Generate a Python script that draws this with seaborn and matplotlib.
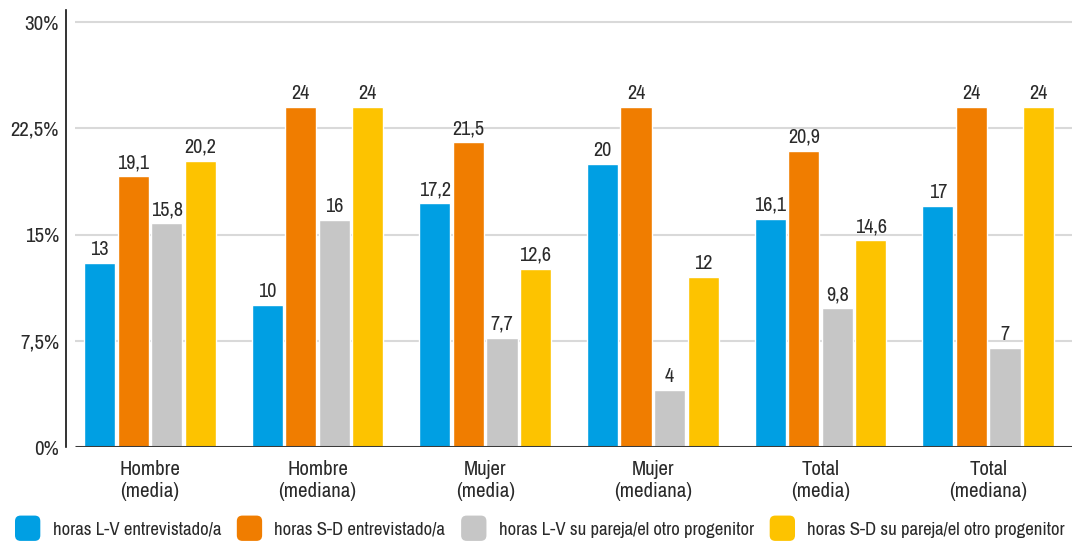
import pandas as pd
import matplotlib
matplotlib.use("Agg")
import matplotlib.pyplot as plt
import seaborn as sns
from matplotlib.patches import Patch, FancyBboxPatch
from matplotlib.legend_handler import HandlerPatch
from matplotlib.ticker import FuncFormatter

# data
groups = ["Hombre\n(media)", "Hombre\n(mediana)", "Mujer\n(media)",
          "Mujer\n(mediana)", "Total\n(media)", "Total\n(mediana)"]
series = ["horas L-V entrevistado/a", "horas S-D entrevistado/a",
          "horas L-V su pareja/el otro progenitor", "horas S-D su pareja/el otro progenitor"]
lv_entrev = [13, 10, 17.2, 20, 16.1, 17]
sd_entrev = [19.1, 24, 21.5, 24, 20.9, 24]
lv_pareja = [15.8, 16, 7.7, 4, 9.8, 7]
sd_pareja = [20.2, 24, 12.6, 12, 14.6, 24]
colors = ["#009FE3", "#F07D00", "#C6C6C6", "#FDC300"]

rows = []
for name, vals in zip(series, [lv_entrev, sd_entrev, lv_pareja, sd_pareja]):
    for g, v in zip(groups, vals):
        rows.append({"grupo": g, "serie": name, "horas": v})
df = pd.DataFrame(rows)

sns.set_style("white")
plt.rcParams["font.family"] = ["Archivo Narrow", "DejaVu Sans"]
txt = "#2a2a2a"

fig = plt.figure(figsize=(10.72, 5.45), dpi=100)
ax = fig.add_axes([0.0616, 0.1798, 0.9384, 0.8019])

sns.barplot(data=df, x="grupo", y="horas", hue="serie", order=groups,
            hue_order=series, palette=colors, width=0.8, gap=0.07,
            saturation=1, ax=ax, legend=False, zorder=3)

for cont in ax.containers:
    labels = [("%g" % b.get_height()).replace(".", ",") for b in cont]
    ax.bar_label(cont, labels=labels, padding=3, fontsize=14.5, color=txt)

ax.set_xlim(-0.5, 5.5)
ax.set_ylim(0, 30.85)
ax.set_yticks([0, 7.5, 15, 22.5, 30])
ax.yaxis.set_major_formatter(FuncFormatter(lambda v, p: ("%g%%" % v).replace(".", ",")))

# grid lines starting a little to the right of the axis
ax.hlines([7.5, 15, 22.5, 30], -0.445, 5.5, color="#D9D9D9", lw=1.5, zorder=1)
ax.hlines(0, -0.445, 5.5, color="#3A3A3A", lw=2.2, zorder=4)

for s in ["top", "right", "bottom"]:
    ax.spines[s].set_visible(False)
ax.spines["left"].set_color("#111111")
ax.spines["left"].set_linewidth(1.2)

ax.set_xlabel("")
ax.set_ylabel("")
ax.tick_params(axis="both", length=0, labelsize=15, colors=txt)
ax.tick_params(axis="x", pad=9)
ax.tick_params(axis="y", pad=5)
for lab in ax.get_xticklabels():
    lab.set_linespacing(1.25)


class RoundBox(HandlerPatch):
    def create_artists(self, legend, orig, xd, yd, w, h, fontsize, trans):
        s = w
        p = FancyBboxPatch((xd, yd + h / 2 - s / 2), s, s,
                           boxstyle="round,pad=0,rounding_size=4",
                           fc=orig.get_facecolor(), ec="none", transform=trans)
        return [p]


handles = [Patch(facecolor=c, label=l) for c, l in zip(colors, series)]
fig.legend(handles=handles, loc="center left", bbox_to_anchor=(0.007, 0.028),
           ncol=4, frameon=False, fontsize=13.5, handlelength=1.35,
           handletextpad=0.65, columnspacing=0.85, borderaxespad=0, labelcolor=txt,
           handler_map={Patch: RoundBox()})

fig.savefig("out.png", dpi=100)
